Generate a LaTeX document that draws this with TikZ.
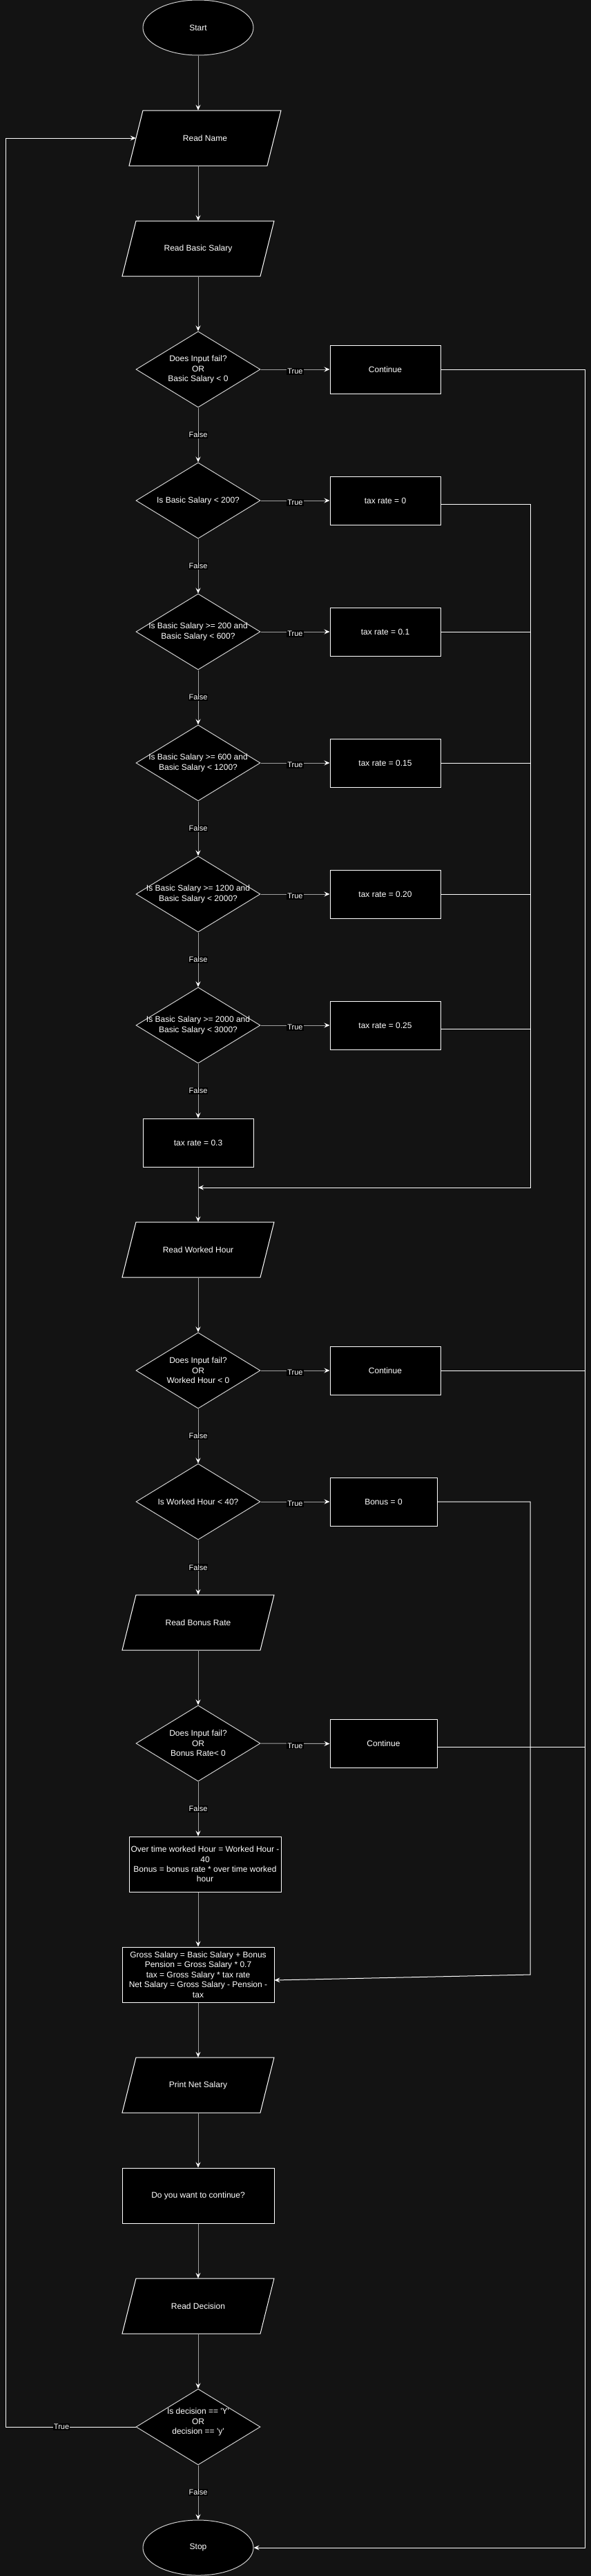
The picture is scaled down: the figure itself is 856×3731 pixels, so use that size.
\documentclass[tikz,border=0pt]{standalone}
\usepackage{fontspec}
\setmainfont{Liberation Sans}
\usetikzlibrary{shapes.geometric,arrows.meta}
\definecolor{bgc}{HTML}{131313}
\definecolor{edgegray}{HTML}{A0A0A0}
\definecolor{diaedge}{HTML}{D0D0D0}
\newcommand\iobox[4]{%
  \filldraw[iofill] ({#2-110},{#3+40}) -- ({#2-90},{#3-40}) -- ({#2+110},{#3-40}) -- ({#2+90},{#3+40}) -- cycle;
  \node[iotext] (#1) at (#2,#3) {#4};}
\begin{document}
\begin{tikzpicture}[x=1pt,y=-1pt,
  basefont/.style={font=\fontsize{12pt}{14.4pt}\selectfont, text=white},
  iofill/.style={fill=black, draw=white, line width=1pt},
  iotext/.style={basefont, rectangle, minimum width=200pt, minimum height=80pt, inner sep=0pt, align=center},
  term/.style={basefont, ellipse, draw=diaedge, fill=black, line width=1pt, minimum width=160pt, minimum height=80pt, inner sep=0pt},
  dia/.style={diamond, draw=diaedge, fill=black, line width=1pt, minimum width=180pt, minimum height=110pt, inner sep=0pt},
  txt/.style={basefont, align=center, inner sep=0pt},
  box/.style={basefont, rectangle, draw=white, fill=black, line width=1pt, inner sep=0pt, align=center, minimum width=160pt, minimum height=70pt},
  bigbox/.style={box, minimum width=220pt, minimum height=80pt},
  lbl/.style={font=\fontsize{11pt}{13pt}\selectfont, text=white, fill=black, inner sep=1pt},
  tip/.style={-{Stealth[length=8pt,width=7pt,inset=3pt,color=white]}},
  flow/.style={draw=edgegray, line width=1pt, tip},
  backline/.style={draw=white, line width=1pt},
  backflow/.style={backline, tip}
]
\path[use as bounding box, fill=bgc] (0,0) rectangle (856,3731);

% ---- nodes ----
\node[term] (start) at (287,40) {Start};
\iobox{rn}{297}{200}{Read Name}
\iobox{rbs}{287}{360}{Read Basic Salary}

\node[dia] (d1) at (287,535) {};
\node[txt] (d1t) at (d1) {Does Input fail?\\OR\\Basic Salary < 0};
\node[box] (c1) at (558,535) {Continue};

\node[dia] (d2) at (287,725) {};
\node[txt] (d2t) at (d2) {Is Basic Salary < 200?};
\node[box] (t0) at (558,725) {tax rate = 0};

\node[dia] (d3) at (287,915) {};
\node[txt] (d3t) at (d3) {Is Basic Salary >= 200 and\\Basic Salary < 600?};
\node[box] (t1) at (558,915) {tax rate = 0.1};

\node[dia] (d4) at (287,1105) {};
\node[txt] (d4t) at (d4) {Is Basic Salary >= 600 and\\Basic Salary < 1200?};
\node[box] (t2) at (558,1105) {tax rate = 0.15};

\node[dia] (d5) at (287,1295) {};
\node[txt] (d5t) at (d5) {Is Basic Salary >= 1200 and\\Basic Salary < 2000?};
\node[box] (t3) at (558,1295) {tax rate = 0.20};

\node[dia] (d6) at (287,1485) {};
\node[txt] (d6t) at (d6) {Is Basic Salary >= 2000 and\\Basic Salary < 3000?};
\node[box] (t4) at (558,1485) {tax rate = 0.25};

\node[box] (t5) at (287,1655) {tax rate = 0.3};

\iobox{rwh}{287}{1810}{Read Worked Hour}

\node[dia] (d7) at (287,1985) {};
\node[txt] (d7t) at (d7) {Does Input fail?\\OR\\Worked Hour < 0};
\node[box] (c2) at (558,1985) {Continue};

\node[dia] (d8) at (287,2175) {};
\node[txt] (d8t) at (d8) {Is Worked Hour < 40?};
\node[box, minimum width=155pt] (b0) at (555.5,2175) {Bonus = 0};

\iobox{rbr}{287}{2350}{Read Bonus Rate}

\node[dia] (d9) at (287,2525) {};
\node[txt] (d9t) at (d9) {Does Input fail?\\OR\\Bonus Rate< 0};
\node[box, minimum width=155pt] (c3) at (555.5,2525.5) {Continue};

\node[bigbox] (ot) at (297,2700) {Over time worked Hour = Worked Hour -\\40\\Bonus = bonus rate * over time worked\\hour};
\node[bigbox] (gross) at (287,2860) {Gross Salary = Basic Salary + Bonus\\Pension = Gross Salary * 0.7\\tax = Gross Salary * tax rate\\Net Salary = Gross Salary - Pension -\\tax};

\iobox{pns}{287}{3020}{Print Net Salary}
\node[bigbox] (dyw) at (287,3180) {Do you want to continue?};
\iobox{rd}{287}{3340}{Read Decision}

\node[dia] (d10) at (287,3515) {};
\node[txt] (d10t) at ([yshift=7pt]d10.center) {Is decision == \textquotesingle Y\textquotesingle\\OR\\decision == \textquotesingle y\textquotesingle};

\node[term] (stop) at (287,3690) {Stop};

% ---- coordinates ----
\coordinate (tcol) at (768,1720);
\coordinate (tin) at (287,1720);
\coordinate (rc1) at (847,535);
\coordinate (rc2) at (847,3690);
\coordinate (bturn) at (768,2860);
\coordinate (lb) at (8,3515);
\coordinate (lt) at (8,200);

% ---- main flow ----
\draw[flow] (start.south) -- (start.south |- rn.north);
\draw[flow] (rbs.north |- rn.south) -- (rbs.north);
\draw[flow] (rbs.south) -- (d1.north);
\draw[flow] (d1.east) -- node[lbl, yshift=-3pt]{True} (c1.west);
\draw[flow] (d1.south) -- node[lbl]{False} (d2.north);
\draw[flow] (d2.east) -- node[lbl, yshift=-3pt]{True} (t0.west);
\draw[flow] (d2.south) -- node[lbl]{False} (d3.north);
\draw[flow] (d3.east) -- node[lbl, yshift=-3pt]{True} (t1.west);
\draw[flow] (d3.south) -- node[lbl]{False} (d4.north);
\draw[flow] (d4.east) -- node[lbl, yshift=-3pt]{True} (t2.west);
\draw[flow] (d4.south) -- node[lbl]{False} (d5.north);
\draw[flow] (d5.east) -- node[lbl, yshift=-3pt]{True} (t3.west);
\draw[flow] (d5.south) -- node[lbl]{False} (d6.north);
\draw[flow] (d6.east) -- node[lbl, yshift=-3pt]{True} (t4.west);
\draw[flow] (d6.south) -- node[lbl]{False} (t5.north);
\draw[flow] (t5.south) -- (rwh.north);
\draw[flow] (rwh.south) -- (d7.north);
\draw[flow] (d7.east) -- node[lbl, yshift=-3pt]{True} (c2.west);
\draw[flow] (d7.south) -- node[lbl]{False} (d8.north);
\draw[flow] (d8.east) -- node[lbl, yshift=-3pt]{True} (b0.west);
\draw[flow] (d8.south) -- node[lbl]{False} (rbr.north);
\draw[flow] (rbr.south) -- (d9.north);
\draw[flow] (d9.east) -- node[lbl, yshift=-3pt]{True} (c3.west);
\draw[flow] (d9.south) -- node[lbl]{False} (d9.south |- ot.north);
\draw[flow] (d9.south |- ot.south) -- (gross.north);
\draw[flow] (gross.south) -- (pns.north);
\draw[flow] (pns.south) -- (dyw.north);
\draw[flow] (dyw.south) -- (rd.north);
\draw[flow] (rd.south) -- (d10.north);
\draw[flow] (d10.south) -- node[lbl]{False} (stop.north);

% ---- tax merge ----
\draw[backflow] ([yshift=-5pt]t0.east) -- ([yshift=-5pt]t0.east -| tcol) -- (tcol) -- (tin);
\draw[backline] (t1.east) -- (t1.east -| tcol);
\draw[backline] (t2.east) -- (t2.east -| tcol);
\draw[backline] (t3.east) -- (t3.east -| tcol);
\draw[backline] ([yshift=-5pt]t4.east) -- ([yshift=-5pt]t4.east -| tcol);

% ---- bonus = 0 ----
\draw[backflow] (b0.east) -- (b0.east -| bturn) -- (bturn) -- ([yshift=-8pt]gross.east);

% ---- continue collector ----
\draw[backflow] (c1.east) -- (rc1) -- (rc2) -- (stop.east);
\draw[backline] (c2.east) -- (c2.east -| rc1);
\draw[backline] ([yshift=-4.5pt]c3.east) -- ([yshift=-4.5pt]c3.east -| rc1);

% ---- loop back ----
\draw[backflow] (d10.west) -- node[lbl, pos=0.57]{True} (lb) -- (lt) -- (rn.west);
\end{tikzpicture}
\end{document}
